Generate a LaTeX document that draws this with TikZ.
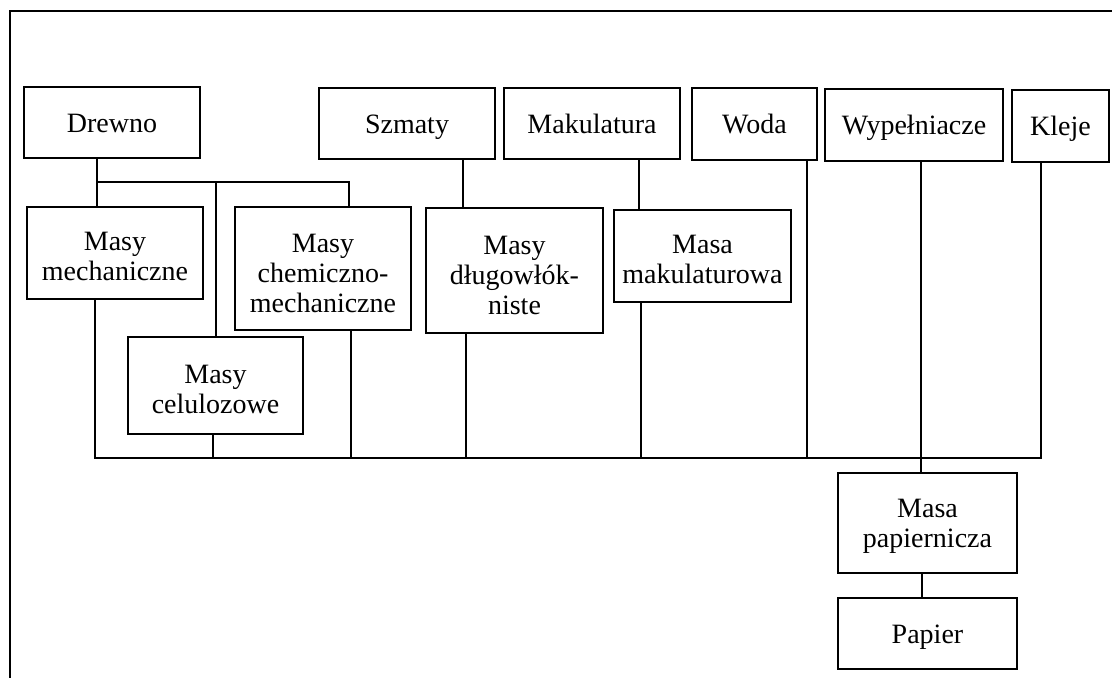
\documentclass[tikz,border=0pt]{standalone}
\usepackage{fontspec}
\setmainfont{Liberation Serif}

\begin{document}
\begin{tikzpicture}[
    x=1pt, y=-1pt, line width=2pt,
    box/.style={draw, align=center, inner sep=0pt, font=\fontsize{28}{30}\selectfont, text depth=0pt},
]
\useasboundingbox (0,0) rectangle (1112,678);
% frame
\draw (1112,11) -- (10,11) -- (10,678);

% boxes: name/x/y/width/height/text height/text
\foreach \name/\x/\y/\w/\h/\th/\txt in {
    drewno/112/122.5/176/71/19/Drewno,
    szmaty/407/123.5/176/71/19/Szmaty,
    makul/592/123.5/176/71/19/Makulatura,
    woda/754.5/124/125/72/19/Woda,
    wypel/914/125/178/72/19/Wypełniacze,
    kleje/1060.5/126/97/72/19/Kleje,
    mech/115/253/176/92/55/{Masy\\mechaniczne},
    chem/323/268.5/176/123/87/{Masy\\chemiczno-\\mechaniczne},
    dlugo/514.5/270.5/177/125/87/{Masy\\długowłók-\\niste},
    makmasa/702.5/256/177/92/54/{Masa\\makulaturowa},
    celul/215.5/385.5/175/97/55/{Masy\\celulozowe},
    papm/927.5/523/179/100/48/{Masa\\papiernicza},
    papier/927.5/633.5/179/71/19/Papier} {
    \node[box, minimum width=\w, minimum height=\h, text height=\th] (\name) at (\x,\y) {\txt};
}

% Drewno split
\coordinate (split) at (97,182);
\coordinate (splitr) at (349,182);
\draw ([xshift=-15]drewno.south) -- ([xshift=-18]mech.north);
\draw (split) -- (splitr) -- ([xshift=26]chem.north);
\draw (split -| celul.north) -- (celul.north);
\draw ([xshift=56]szmaty.south) -- ([xshift=-51.5]dlugo.north);
\draw ([xshift=47]makul.south) -- ([xshift=-63.5]makmasa.north);

% collecting line
\coordinate (busl) at (95,458);
\coordinate (busr) at (1041,458);
\draw ([xshift=-20]mech.south) -- (busl) -- (busr) -- ([xshift=-19.5]kleje.south);
\foreach \name/\dx in {celul/-2.5, chem/28, dlugo/-48.5, makmasa/-61.5, woda/52.5} {
    \draw ([xshift=\dx]\name.south) coordinate (top) -- (top |- busl);
}
\draw ([xshift=7]wypel.south) -- ([xshift=-6.5]papm.north);
\draw ([xshift=-5.5]papm.south) -- ([xshift=-5.5]papier.north);
\end{tikzpicture}
\end{document}
